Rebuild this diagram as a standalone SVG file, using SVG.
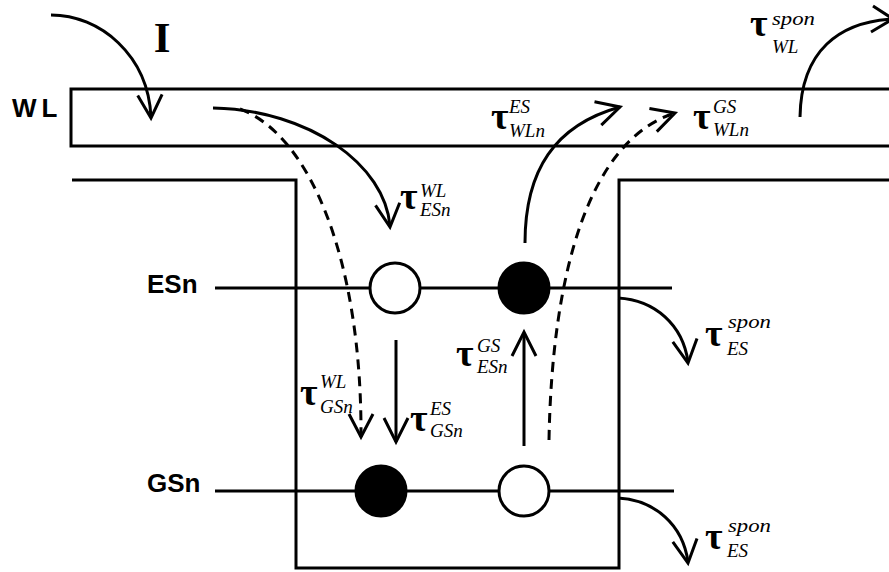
<svg xmlns="http://www.w3.org/2000/svg" width="889" height="572" viewBox="0 0 889 572">
<style>
.ln{fill:none;stroke:#000;stroke-width:3}
.ds{fill:none;stroke:#000;stroke-width:3;stroke-dasharray:10 7}
.lab{font-family:"Liberation Sans",Arial,sans-serif;font-weight:bold;font-size:26px;fill:#000}
.tau{font-family:"Liberation Serif","Times New Roman",serif;font-weight:bold;font-size:38px;fill:#000}
.sc{font-family:"Liberation Serif","Times New Roman",serif;font-style:italic;font-size:19px;fill:#000}
</style>
<rect width="889" height="572" fill="#fff"/>
<g id="wordline">
<rect x="71" y="89" width="830" height="57" class="ln"/>
<text class="lab" x="12" y="117" letter-spacing="5">WL</text>
</g>
<g id="well">
<polyline class="ln" points="72,180 296,180 296,568 619,568 619,180 895,180"/>
</g>
<g id="esn-level">
<line class="ln" x1="215" y1="288" x2="672" y2="288"/>
<text class="lab" x="147" y="293">ESn</text>
</g>
<g id="gsn-level">
<line class="ln" x1="215" y1="491" x2="674" y2="491"/>
<text class="lab" x="147" y="492">GSn</text>
</g>
<g id="es-empty"><circle cx="395" cy="288" r="25" fill="#fff" stroke="#000" stroke-width="3"/></g>
<g id="es-filled"><circle cx="524" cy="288" r="25" fill="#000" stroke="#000" stroke-width="3"/></g>
<g id="gs-filled"><circle cx="381" cy="491" r="25" fill="#000" stroke="#000" stroke-width="3"/></g>
<g id="gs-empty"><circle cx="524" cy="491" r="25" fill="#fff" stroke="#000" stroke-width="3"/></g>
<g id="connectors">
<path class="ln" d="M51,15 C100,15 148,55 151,117"/>
<polyline class="ln" points="137.7,95.6 151,118 162.1,94.4"/>
<path class="ln" d="M213,108 C310,110 385,165 390,226"/>
<polyline class="ln" points="375.5,205.4 390,227 399.7,202.8"/>
<path class="ds" d="M240,109 C310,135 362,260 361,437"/>
<polyline class="ln" points="349,414 361,437 373,414"/>
<line class="ln" x1="396" y1="340" x2="396" y2="442"/>
<polyline class="ln" points="384,418 396,442 408,418"/>
<line class="ln" x1="524" y1="446" x2="524" y2="333"/>
<polyline class="ln" points="512,356 524,332 536,356"/>
<path class="ds" d="M549,440 C552,270 590,140 675,113"/>
<polyline class="ln" points="649.4,108.4 675,113 656.8,131.6"/>
<path class="ln" d="M525,243 C525,170 555,125 620,107"/>
<polyline class="ln" points="594.5,101.7 620,107 601.3,125.1"/>
<path class="ln" d="M800,117 C801,50 840,22 892,19"/>
<polyline class="ln" points="873,6 893,19 871,32"/>
<path class="ln" d="M618,298 C655,300 683,325 688,362"/>
<polyline class="ln" points="672.8,341.8 688,363 697,338.6"/>
<path class="ln" d="M618,498 C655,500 683,525 688,562"/>
<polyline class="ln" points="672.8,541.8 688,563 697,538.6"/>
</g>
<g id="label-I"><text x="162" y="52" text-anchor="middle" font-family="Liberation Serif,serif" font-weight="bold" font-size="43">I</text></g>
<g id="tau-WL-spon">
<text class="tau" x="750" y="36">τ</text><text class="sc" x="772" y="25" textLength="43" lengthAdjust="spacingAndGlyphs">spon</text><text class="sc" x="772" y="53">WL</text>
</g>
<g id="tau-WLn-GS">
<text class="tau" x="693" y="129">τ</text><text class="sc" x="713" y="113">GS</text><text class="sc" x="713" y="136">WLn</text>
</g>
<g id="tau-WLn-ES">
<text class="tau" x="491" y="129">τ</text><text class="sc" x="509" y="113">ES</text><text class="sc" x="509" y="137">WLn</text>
</g>
<g id="tau-ESn-WL">
<text class="tau" x="400" y="209">τ</text><text class="sc" x="420" y="197">WL</text><text class="sc" x="420" y="216">ESn</text>
</g>
<g id="tau-ESn-GS">
<text class="tau" x="456" y="366">τ</text><text class="sc" x="477" y="352">GS</text><text class="sc" x="477" y="373">ESn</text>
</g>
<g id="tau-GSn-ES">
<text class="tau" x="410" y="431">τ</text><text class="sc" x="430" y="415">ES</text><text class="sc" x="430" y="437">GSn</text>
</g>
<g id="tau-GSn-WL">
<text class="tau" x="300" y="405">τ</text><text class="sc" x="320" y="388">WL</text><text class="sc" x="320" y="413">GSn</text>
</g>
<g id="tau-ES-spon-1">
<text class="tau" x="705" y="346">τ</text><text class="sc" x="728" y="328" textLength="43" lengthAdjust="spacingAndGlyphs">spon</text><text class="sc" x="727" y="355">ES</text>
</g>
<g id="tau-ES-spon-2">
<text class="tau" x="705" y="549">τ</text><text class="sc" x="728" y="532" textLength="43" lengthAdjust="spacingAndGlyphs">spon</text><text class="sc" x="727" y="557">ES</text>
</g>
</svg>
